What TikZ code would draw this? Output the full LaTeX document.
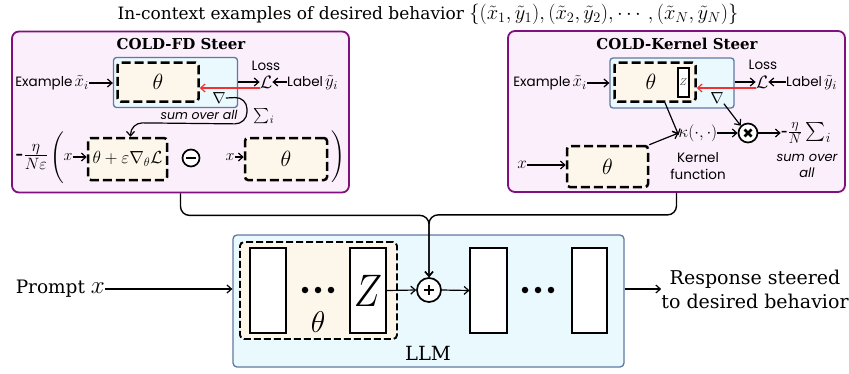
\RequirePackage{fix-cm}
\documentclass[tikz,border=0pt]{standalone}
\usepackage{amsmath}
\usepackage{exscale}
\usepackage{fontspec}
\setmainfont{DejaVu Serif}
\newfontfamily\sansf{Poppins}
\usetikzlibrary{arrows.meta,calc}
\newcommand\fsz[1]{\fontsize{#1}{#1}\selectfont}
\newcommand\bigsum[1]{\vcenter{\hbox{\resizebox{#1}{!}{$\textstyle\sum$}}}}
\definecolor{purpleC}{RGB}{128,16,128}
\definecolor{pinkC}{RGB}{252,239,252}
\definecolor{blueB}{RGB}{95,120,160}
\definecolor{blueF}{RGB}{233,249,253}
\definecolor{creamC}{RGB}{253,246,234}
\definecolor{redC}{RGB}{240,50,50}
\begin{document}
\begin{tikzpicture}[x=1pt,y=-1pt,
  panel/.style={draw=purpleC, line width=1.8pt, fill=pinkC, rounded corners=7pt, minimum width=337pt, minimum height=161pt},
  bluebox/.style={draw=blueB, line width=1.3pt, fill=blueF, rounded corners=3pt, minimum width=124pt, minimum height=50pt},
  dbox/.style={draw=black, line width=2.5pt, dash pattern=on 9pt off 4pt, fill=creamC, rounded corners=3pt, minimum width=81pt, minimum height=39pt, inner sep=0pt},
  wbox/.style={draw=black, line width=1.1pt, fill=white, minimum width=36pt, minimum height=85pt, inner sep=0pt},
  txt/.style={inner sep=0pt},
  sanslab/.style={inner sep=0pt, font=\sansf\fsz{13.5}},
  arr/.style={-{Straight Barb[length=4.5pt,width=8pt]}, line width=1.2pt},
  redarr/.style={-{Straight Barb[length=4.5pt,width=8pt]}, line width=1.2pt, draw=redC},
  opc/.style={circle, draw=black, line width=1.7pt, fill=white, inner sep=0pt},
  dot/.style={circle, fill=black, inner sep=0pt, minimum size=6.5pt},
]
\useasboundingbox (0,0) rectangle (849,373);

% title
\node[txt] (title) at (428,14) {\fsz{17}In-context examples of desired behavior \fsz{20.5}$\{(\tilde{x}_1,\tilde{y}_1),(\tilde{x}_2,\tilde{y}_2),\cdots,(\tilde{x}_N,\tilde{y}_N)\}$};

% ===== left panel
\node[panel] (fdp) at (180.5,112) {};
\node[txt] (fdtitle) at (181,44) {\fsz{15}\bfseries COLD-FD Steer};
\node[bluebox] (fdblue) at (175.5,82.5) {};
\node[dbox] (fdth) at (158,82) {\fsz{22}$\theta$};
\node[txt, anchor=east] (fdex) at (89,83) {\sansf\fsz{13.5}Example\,\fsz{17}$\tilde{x}_i$};
\draw[arr] (fdex.east) -- (fdblue.west |- fdex.east);
\node[sanslab] (fdloss) at (266,66) {Loss};
\node[txt] (fdL) at (266,82) {\fsz{18}$\mathcal{L}$};
\draw[arr] (fdblue.east |- fdL) -- (fdL.west);
\node[txt, anchor=west] (fdlab) at (287,83) {\sansf\fsz{13.5}Label\,\fsz{17}$\tilde{y}_i$};
\draw[arr] (fdlab.west |- fdL) -- (fdL.east);
\draw[redarr] ([yshift=-6pt]fdL.west) -- ([yshift=-6pt]fdth.east);
\node[txt] (fdnab) at (219,98) {\fsz{16}$\nabla$};
\node[txt] (fdsum) at (199,115) {\sansf\itshape\fsz{12.5}sum over all};
\node[txt] (fdsig) at (264,116) {\fsz{16}$\bigsum{16pt}_i$};
\node[txt] (fdcoef) at (32,157) {\fsz{18}\scalebox{1.3}{-$\frac{\eta}{N\varepsilon}$}};
\node[txt] (fdlp) at (57,158) {\fsz{17}$\Bigg($};
\node[txt] (fdx1) at (68,157) {\fsz{16}$x$};
\node[dbox, minimum width=79pt, minimum height=42pt] (fdb1) at (127.5,159) {\fsz{17.5}$\theta+\varepsilon\nabla_{\theta}\mathcal{L}$};
\draw[arr] (fdx1.east) -- (fdb1.west |- fdx1.east);
\draw[arr, rounded corners=12pt] (fdnab.east) -- (247,97) -- (247,124) -- ($(fdb1.north)+(3,-14)$) -- ($(fdb1.north)+(3,0)$);
\node[opc, minimum size=17pt] (fdminus) at (191,158) {};
\draw[line width=2.2pt] ([xshift=-5pt]fdminus.center) -- ([xshift=5pt]fdminus.center);
\node[txt] (fdx2) at (230,157) {\fsz{16}$x$};
\node[dbox, minimum width=82pt, minimum height=42pt] (fdb2) at (286,159) {\fsz{22}$\theta$};
\draw[arr] (fdx2.east) -- (fdb2.west |- fdx2.east);
\node[txt] (fdrp) at (338,157) {\fsz{18}$\Bigg)$};

% ===== right panel
\node[panel] (kp) at (676.5,111.5) {};
\node[txt] (ktitle) at (677,44) {\fsz{15}\bfseries COLD-Kernel Steer};
\node[bluebox] (kblue) at (672,83) {};
\node[dbox] (kth) at (655,82) {\hspace*{-8pt}\fsz{22}$\theta$};
\node[draw=black, line width=1.1pt, fill=white, minimum width=11pt, minimum height=29pt, inner sep=0pt] (kz) at (683.5,82.5) {\fsz{10}\color{black!75}$Z$};
\node[txt, anchor=east] (kex) at (587,83) {\sansf\fsz{13.5}Example\,\fsz{17}$\tilde{x}_i$};
\draw[arr] (kex.east) -- (kblue.west |- kex.east);
\node[sanslab] (kloss) at (763,65) {Loss};
\node[txt] (kL) at (762,82) {\fsz{18}$\mathcal{L}$};
\draw[arr] (kblue.east |- kL) -- (kL.west);
\node[txt, anchor=west] (klab) at (786,83) {\sansf\fsz{13.5}Label\,\fsz{17}$\tilde{y}_i$};
\draw[arr] (klab.west |- kL) -- (kL.east);
\draw[redarr] ([yshift=-6pt]kL.west) -- ([yshift=-6pt]kth.east);
\node[txt] (knab) at (717,98) {\fsz{16}$\nabla$};
\node[txt] (kkap) at (698,133) {\fsz{17}$\kappa(\cdot,\cdot)$};
\node[opc, minimum size=19pt] (ktimes) at (748,133) {};
\draw[line width=2.5pt] ([shift={(-3.5pt,-3.5pt)}]ktimes.center) -- ([shift={(3.5pt,3.5pt)}]ktimes.center);
\draw[line width=2.5pt] ([shift={(-3.5pt,3.5pt)}]ktimes.center) -- ([shift={(3.5pt,-3.5pt)}]ktimes.center);
\node[txt] (ksum) at (806,133) {\fsz{20}-$\frac{\eta}{N}\,\bigsum{20pt}_i$};
\node[txt, align=center, font=\sansf\itshape\fsz{13}] (ksumtxt) at (807,166) {sum over\\[3pt]all};
\node[txt, align=center, font=\sansf\fsz{13.5}] (kkern) at (698,166) {Kernel\\[3pt]function};
\node[dbox, minimum width=81pt, minimum height=41pt] (kb) at (607.5,166.5) {\fsz{22}$\theta$};
\node[txt] (kx) at (522,165) {\fsz{17}$x$};
\draw[arr] (kx.east) -- (kb.west |- kx.east);
\draw[arr] ([xshift=10pt]kth.south) -- ([yshift=-2pt]kkap.west);
\draw[arr] (kb.north east) -- (kkap.west);
\draw[arr] (knab.south east) -- (ktimes.north west);
\draw[arr] (kkap.east) -- (ktimes.west);
\draw[arr] (ktimes.east) -- (ksum.west);

% ===== LLM
\node[draw=blueB, line width=1.3pt, fill=blueF, rounded corners=4pt, minimum width=391pt, minimum height=132pt] (llm) at (428.5,301) {};
\node[draw=black, line width=1.9pt, dash pattern=on 7pt off 3pt, fill=creamC, rounded corners=4pt, minimum width=157pt, minimum height=97pt] (lth) at (318.5,290.5) {};
\node[wbox] (r1) at (268,290.5) {};
\node[wbox] (rz) at (368,290.5) {\fsz{38}\scalebox{1}[1.2]{$Z$}};
\node[wbox, minimum width=37pt] (r3) at (488.5,290.5) {};
\node[wbox, minimum width=35pt] (r4) at (589.5,290.5) {};
\node[dot] (d1) at (305,290) {};
\node[dot] (d2) at (318,290) {};
\node[dot] (d3) at (331,290) {};
\node[txt] (llmth) at (318,322) {\fsz{30}$\theta$};
\node[dot] (e1) at (525,290) {};
\node[dot] (e2) at (538,290) {};
\node[dot] (e3) at (551,290) {};
\node[opc, minimum size=24pt] (plus) at (429,290) {};
\draw[line width=2.5pt] ([xshift=-5pt]plus.center) -- ([xshift=5pt]plus.center);
\draw[line width=2.5pt] ([yshift=-5pt]plus.center) -- ([yshift=5pt]plus.center);
\draw[arr] (rz.east) -- (plus.west);
\draw[arr] (plus.east) -- (r3.west);
\node[txt] (llmlab) at (428,353) {\fsz{19.5}LLM};
\node[txt, anchor=east] (prompt) at (105,289) {\fsz{18.5}Prompt \fsz{25}$x$};
\draw[arr] (prompt.east) -- (llm.west |- prompt.east);
\node[txt, align=center, font=\fsz{19}] (resp) at (755,289) {Response steered\\[5pt]to desired behavior};
\draw[arr] (llm.east |- resp) -- (resp.west);

% connectors
\draw[arr, line width=1.4pt, rounded corners=9pt] (fdp.south) -- ++(0,22) -| (plus.north);
\draw[arr, line width=1.4pt, rounded corners=9pt] (kp.south) -- ++(0,22) -| (plus.north);
\end{tikzpicture}
\end{document}
